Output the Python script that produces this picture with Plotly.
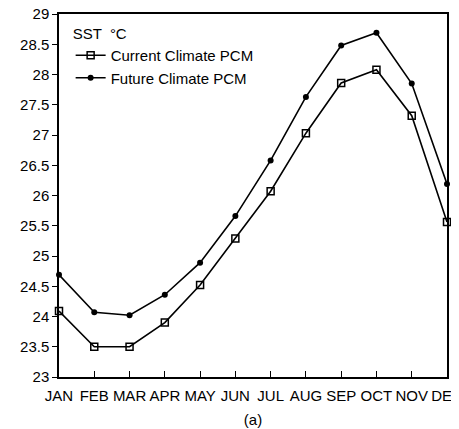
import plotly.graph_objects as go

months = ["JAN", "FEB", "MAR", "APR", "MAY", "JUN", "JUL", "AUG", "SEP", "OCT", "NOV", "DEC"]
current_pcm = [24.09, 23.5, 23.5, 23.9, 24.52, 25.29, 26.07, 27.03, 27.86, 28.08, 27.32, 25.56]
future_pcm = [24.69, 24.07, 24.02, 24.36, 24.89, 25.66, 26.58, 27.63, 28.48, 28.69, 27.85, 26.19]
y_ticks = [23, 23.5, 24, 24.5, 25, 25.5, 26, 26.5, 27, 27.5, 28, 28.5, 29]

FONT = "Liberation Sans, Arial, sans-serif"

fig = go.Figure()
fig.add_trace(go.Scatter(
    x=months, y=current_pcm, mode="lines+markers", name="Current Climate PCM",
    line=dict(color="black", width=1.6),
    marker=dict(symbol="square-open", size=7, color="black", line=dict(width=1.5)),
    cliponaxis=False,
))
fig.add_trace(go.Scatter(
    x=months, y=future_pcm, mode="lines+markers", name="Future Climate PCM",
    line=dict(color="black", width=1.6),
    marker=dict(symbol="circle", size=6, color="black"),
    cliponaxis=False,
))

fig.update_layout(
    width=451, height=421,
    margin=dict(l=51, r=12, t=6, b=52, autoexpand=False),
    paper_bgcolor="white", plot_bgcolor="white",
    font=dict(family=FONT, size=15, color="black"),
    showlegend=True,
    legend=dict(
        x=0.03, y=0.985, xanchor="left", yanchor="top",
        bgcolor="rgba(0,0,0,0)",
        title=dict(text="SST  °C", font=dict(size=15)),
        font=dict(size=15),
        itemwidth=30, tracegroupgap=0,
    ),
    xaxis=dict(
        type="category", range=[0, 11], automargin=False, tickangle=0,
        showline=True, linecolor="black", linewidth=1.5, mirror=True,
        ticks="inside", ticklen=6, tickcolor="black",
        showgrid=False, zeroline=False,
        tickfont=dict(size=15), ticklabelstandoff=4, ticklabeloverflow="allow",
        title=dict(text="(a)", font=dict(size=15), standoff=12),
    ),
    yaxis=dict(
        range=[23, 29], tickvals=y_ticks, automargin=False,
        ticktext=[("%g" % v) for v in y_ticks],
        showline=True, linecolor="black", linewidth=1.5, mirror=True,
        ticks="outside", ticklen=5, tickcolor="black",
        showgrid=False, zeroline=False,
        tickfont=dict(size=15), ticklabeloverflow="allow",
    ),
)

fig.write_html("out.html")
